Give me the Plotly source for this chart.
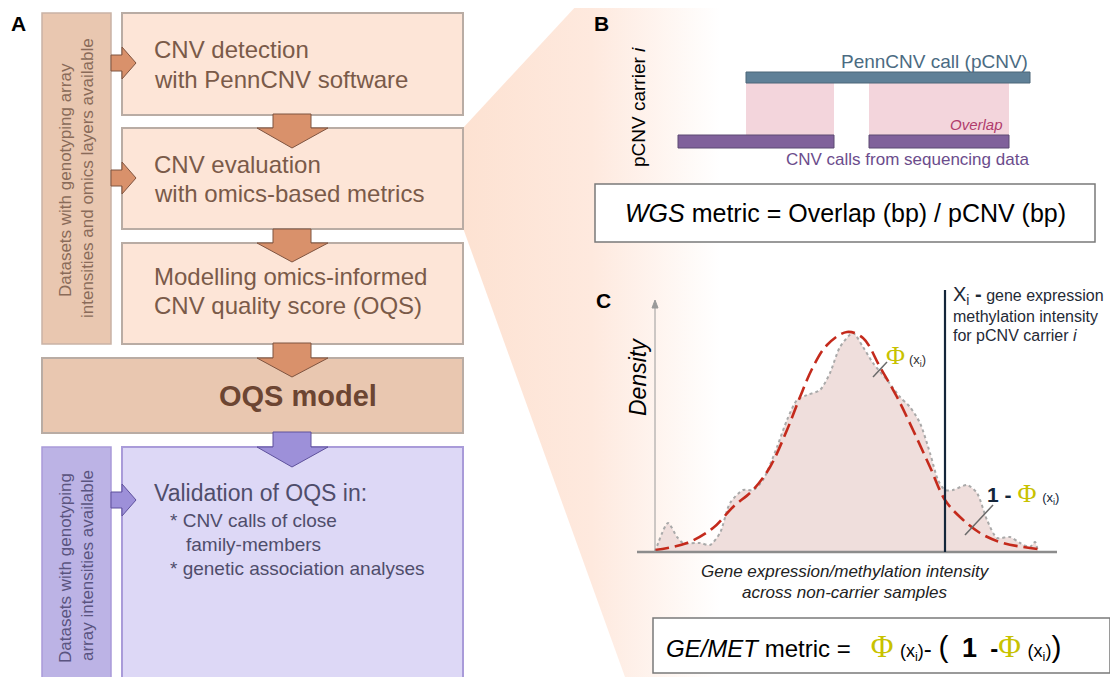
import plotly.graph_objects as go

# ---------------- data ----------------
box_labels = [
    ["CNV detection", "with PennCNV software"],
    ["CNV evaluation", "with omics-based metrics"],
    ["Modelling omics-informed", "CNV quality score (OQS)"],
]
model_label = "OQS model"
side_labels_top = ["Datasets with genotyping array", "intensities and omics layers available"]
side_labels_bottom = ["Datasets with genotyping", "array intensities available"]
validation_lines = ["Validation of OQS in:", "* CNV calls of close", "family-members", "* genetic association analyses"]

# panel B: intervals (pixel positions along the genome axis)
pcnv_call = [746, 1030]
seq_calls = [[678, 834], [869, 1009]]
overlaps = [[746, 834], [869, 1009]]

dens_x = [655, 668, 677, 683, 700, 710, 720, 730, 743, 753, 763, 777, 787, 797, 807, 820, 830, 840,
          853, 863, 873, 887, 900, 910, 920, 930, 938, 945, 953, 967, 977, 987, 997, 1010, 1020, 1030, 1035, 1038]
dens_y = [552, 523, 537, 543, 543, 545, 533, 503, 490, 490, 480, 447, 420, 400, 395, 390, 373, 347,
          333, 347, 363, 380, 397, 407, 423, 453, 480, 490, 490, 485, 493, 520, 538, 537, 543, 547, 542, 552]
norm_x = [655, 687, 713, 733, 753, 770, 787, 800, 813, 827, 847, 863, 880, 897, 913, 930, 945, 960, 980, 1003, 1038]
norm_y = [550, 543, 528, 507, 490, 467, 430, 397, 367, 345, 332, 338, 367, 397, 430, 467, 500, 517, 533, 543, 549]
carrier_x = 945

FONT = "Liberation Sans, Arial, sans-serif"
BROWN_TXT = "#7a5a49"
PEACH = "#fde5d7"
PEACH_EDGE = "#b9aca4"
TAN = "#e9c7b0"
ARROW = "#d9916b"
ARROW_EDGE = "#7f5440"
LAV = "#ddd8f6"
LAV_EDGE = "#a99bd9"
LAV_COL = "#bcb3e5"
LAV_ARROW = "#9d90d9"
LAV_ARROW_EDGE = "#5e519c"

fig = go.Figure()

# callout wedge with a horizontal fade
fig.add_trace(go.Scatter(
    x=[463, 578, 720, 720, 625, 463, 463], y=[128, 4, 4, 677, 677, 228, 128],
    mode="lines", line=dict(width=0), fill="toself",
    fillgradient=dict(type="horizontal",
                      colorscale=[[0, "#fde2d2"], [0.5, "#fee9de"], [1, "#ffffff"]]),
    hoverinfo="skip", showlegend=False))

# density area + dotted outline
fig.add_trace(go.Scatter(x=dens_x, y=dens_y, mode="lines", fill="toself",
                         fillcolor="#efdedc", line=dict(color="#a9a9a9", width=2, dash="dot", shape="spline", smoothing=0.7),
                         hoverinfo="skip", showlegend=False))
# normal fit
fig.add_trace(go.Scatter(x=norm_x, y=norm_y, mode="lines",
                         line=dict(color="#c42a1c", width=2.6, dash="14px,6px", shape="spline", smoothing=1.0),
                         hoverinfo="skip", showlegend=False))

shapes = []


def rect(x0, y0, x1, y1, fill, line, w=1.5, layer="above"):
    shapes.append(dict(type="rect", x0=x0, y0=y0, x1=x1, y1=y1, xref="x", yref="y",
                       fillcolor=fill, line=dict(color=line, width=w), layer=layer))


def path(pts, fill, line, w=1):
    d = "M " + " L ".join(f"{x},{y}" for x, y in pts) + " Z"
    shapes.append(dict(type="path", path=d, xref="x", yref="y", fillcolor=fill,
                       line=dict(color=line, width=w), layer="above"))


def down_arrow(y0, y1, tip, fill, edge):
    path([(273, y0), (311, y0), (311, y1), (328, y1), (292, tip), (257, y1), (273, y1)], fill, edge)


def right_arrow(yc, fill, edge):
    path([(111, yc - 8), (122, yc - 8), (122, yc - 16), (136, yc), (122, yc + 16), (122, yc + 8), (111, yc + 8)], fill, edge)


# panel A
rect(42, 13, 111, 344, TAN, "#c9b3a5", 1.5)
rect(122, 13, 463, 115, PEACH, PEACH_EDGE, 2)
rect(122, 128, 463, 229, PEACH, PEACH_EDGE, 2)
rect(122, 243, 463, 344, PEACH, PEACH_EDGE, 2)
rect(42, 358, 463, 433, TAN, PEACH_EDGE, 2)
rect(42, 447, 111, 680, LAV_COL, "#a99bd9", 1.5)
rect(122, 447, 463, 680, LAV, LAV_EDGE, 2)
down_arrow(114, 128, 148, ARROW, ARROW_EDGE)
down_arrow(229, 243, 262, ARROW, ARROW_EDGE)
down_arrow(343, 358, 377, ARROW, ARROW_EDGE)
down_arrow(432, 447, 467, LAV_ARROW, LAV_ARROW_EDGE)
right_arrow(63, ARROW, ARROW_EDGE)
right_arrow(178, ARROW, ARROW_EDGE)
right_arrow(500, LAV_ARROW, LAV_ARROW_EDGE)

# panel B
rect(overlaps[0][0], 83, overlaps[0][1], 135, "#f3d5dc", "#f3d5dc", 0)
rect(overlaps[1][0], 83, overlaps[1][1], 135, "#f3d5dc", "#f3d5dc", 0)
rect(pcnv_call[0], 72, pcnv_call[1], 83, "#5f8097", "#4d6678", 1)
for a, b in seq_calls:
    rect(a, 135, b, 148, "#80619b", "#5d4a72", 1)
rect(595, 184, 1095, 242, "white", "#7a7a7a", 1.5)

# panel C axes
shapes.append(dict(type="line", x0=637, y0=552, x1=1057, y1=552, xref="x", yref="y",
                   line=dict(color="#8c8c8c", width=2.5), layer="above"))
shapes.append(dict(type="line", x0=655, y0=552, x1=655, y1=306, xref="x", yref="y",
                   line=dict(color="#9a9a9a", width=1), layer="above"))
path([(652, 308), (655, 300), (658, 308)], "#9a9a9a", "#9a9a9a", 1)
shapes.append(dict(type="line", x0=carrier_x, y0=290, x1=carrier_x, y1=552, xref="x", yref="y",
                   line=dict(color="#14263a", width=2.2), layer="above"))
shapes.append(dict(type="line", x0=873, y0=377, x1=887, y1=362, xref="x", yref="y",
                   line=dict(color="#6a6a6a", width=1.5), layer="above"))
shapes.append(dict(type="line", x0=965, y0=535, x1=993, y1=505, xref="x", yref="y",
                   line=dict(color="#6a6a6a", width=1.5), layer="above"))
rect(653, 618, 1110, 673, "white", "#7a7a7a", 1.5)

annotations = []


def ann(x, y, text, size, color, xanchor="left", angle=0, family=FONT, yanchor="middle"):
    annotations.append(dict(x=x, y=y, xref="x", yref="y", text=text, showarrow=False,
                            xanchor=xanchor, yanchor=yanchor, textangle=angle,
                            font=dict(family=family, size=size, color=color)))


ann(9, 23, "<b>A</b>", 21, "black")
ann(592, 23, "<b>B</b>", 21, "black")
ann(594, 300, "<b>C</b>", 21, "black")

box_y = [(49, 79), (164, 193), (276, 305)]
for lines, (y1, y2) in zip(box_labels, box_y):
    ann(152, y1, lines[0], 24, BROWN_TXT)
    ann(152, y2, lines[1], 24, BROWN_TXT)
ann(298, 396, f"<b>{model_label}</b>", 29, "#6c4532", xanchor="center")

ann(65, 180, side_labels_top[0], 17, "#8a6b59", xanchor="center", angle=-90)
ann(87, 178, side_labels_top[1], 17, "#8a6b59", xanchor="center", angle=-90)
ann(65, 568, side_labels_bottom[0], 17, "#5a5480", xanchor="center", angle=-90)
ann(87, 566, side_labels_bottom[1], 17, "#5a5480", xanchor="center", angle=-90)

ann(152, 493, validation_lines[0], 23, "#4f4d6b")
ann(168, 520, validation_lines[1], 19, "#4f4d6b")
ann(184, 544, validation_lines[2], 19, "#4f4d6b")
ann(168, 568, validation_lines[3], 19, "#4f4d6b")

# panel B texts
ann(638, 107, "pCNV carrier <i>i</i>", 19, "black", xanchor="center", angle=-90)
ann(1030, 61, "PennCNV call (pCNV)", 19, "#4b6b82", xanchor="right")
ann(1005, 124, "<i>Overlap</i>", 15, "#b03c6c", xanchor="right")
ann(1031, 159, "CNV calls from sequencing data", 17, "#6b4c8c", xanchor="right")
ann(845, 213, "<i>WGS</i> metric = Overlap (bp) / pCNV (bp)", 25, "black", xanchor="center")

# panel C texts
PHI = "<span style='font-family:Liberation Serif, serif;color:#c8c200'>Φ</span>"


def phi(size):
    return PHI.replace("'>", f";font-size:{size}px'>", 1)


ann(638, 377, "<i>Density</i>", 23, "black", xanchor="center", angle=-90)
ann(845, 571, "<i>Gene expression/methylation intensity</i>", 17, "#222222", xanchor="center")
ann(845, 592, "<i>across non-carrier samples</i>", 17, "#222222", xanchor="center")
ann(951, 295, "<span style='font-size:20px'>X<sub>i</sub> <b>-</b></span> gene expression", 16, "#1f2a36")
ann(951, 316, "methylation intensity", 16, "#1f2a36")
ann(951, 335, "for pCNV carrier <i>i</i>", 16, "#1f2a36")
ann(884, 355, phi(26) + " <span style='font-size:13px'>(x<sub>i</sub>)</span>", 14, "#333333")
ann(985, 493, "<b>1</b> <b>-</b> " + phi(26) + " <span style='font-size:13px'>(x<sub>i</sub>)</span>", 21, "#14263a")
ann(664, 646, "<i>GE/MET</i> metric =&nbsp;&nbsp;&nbsp;" + phi(31)
    + "&nbsp;<span style='font-size:18px'>(x<sub>i</sub>)</span>-&nbsp;<span style='font-size:30px'>(</span>&nbsp;&nbsp;"
    + "<span style='font-size:27px'><b>1</b></span>&nbsp;&nbsp;<b>-</b>" + phi(31)
    + "&nbsp;<span style='font-size:18px'>(x<sub>i</sub>)</span><span style='font-size:30px'>)</span>",
    24, "black")

# the page body has an 8px margin: shift the coordinate frame so values equal screen pixels
fig.update_layout(
    width=1110, height=669, margin=dict(l=0, r=0, t=0, b=0),
    paper_bgcolor="white", plot_bgcolor="white",
    xaxis=dict(range=[8, 1118], visible=False, fixedrange=True),
    yaxis=dict(range=[677, 8], visible=False, fixedrange=True),
    shapes=shapes, annotations=annotations, showlegend=False,
)
fig.write_html("out.html")
